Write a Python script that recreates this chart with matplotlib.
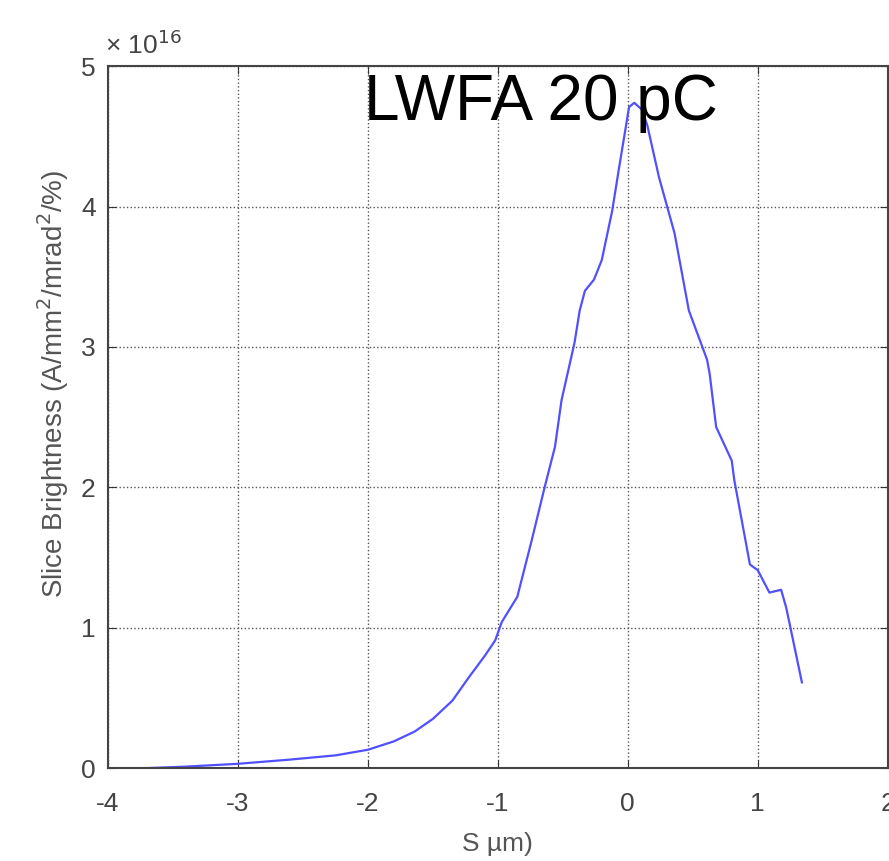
import numpy as np
import matplotlib.pyplot as plt

plt.rcParams['font.family'] = ['Liberation Sans', 'DejaVu Sans']
plt.rcParams['axes.unicode_minus'] = False

# slice position (um) and brightness (x 1e16 A/mm^2/mrad^2/%)
s_um = [-3.68, -3.4, -3.0, -2.6, -2.25, -2.0, -1.8, -1.64, -1.5, -1.35, -1.22, -1.1,
        -1.02, -0.97, -0.85, -0.82, -0.74, -0.64, -0.56, -0.51, -0.41, -0.37, -0.33,
        -0.26, -0.2, -0.12, -0.07, 0.01, 0.05, 0.11, 0.15, 0.24, 0.36, 0.47, 0.61,
        0.63, 0.68, 0.8, 0.82, 0.94, 1.0, 1.09, 1.18, 1.22, 1.34]
bright = [0.0, 0.01, 0.03, 0.06, 0.09, 0.13, 0.19, 0.26, 0.35, 0.48, 0.65, 0.8,
          0.91, 1.04, 1.22, 1.33, 1.62, 2.0, 2.29, 2.62, 3.03, 3.26, 3.4,
          3.48, 3.62, 3.97, 4.26, 4.71, 4.74, 4.69, 4.58, 4.21, 3.81, 3.26, 2.91,
          2.81, 2.43, 2.19, 2.05, 1.45, 1.41, 1.25, 1.27, 1.14, 0.61]
xticks = [-4, -3, -2, -1, 0, 1, 2]
yticks = [0, 1, 2, 3, 4, 5]

fig = plt.figure(figsize=(8.89, 8.61), dpi=100)
ax = fig.add_axes([0.1215, 0.108, 0.877, 0.815])
ax.plot(s_um, bright, color='#5050ff', lw=1.6)

ax.set_xlim(-4, 2)
ax.set_ylim(0, 5)
ax.set_xticks(xticks)
ax.set_yticks(yticks)
ax.tick_params(direction='in', top=True, right=True, length=6, labelsize=19,
               colors='#333333', labelcolor='#444444')
ax.tick_params(axis='x', pad=17)
ax.tick_params(axis='y', pad=9)
ax.grid(True, linestyle=':', color='#555555', lw=1.0)
for sp in ax.spines.values():
    sp.set_color('#444444')
    sp.set_linewidth(1.5)

ax.set_xlabel('S µm)', fontsize=19, color='#555555', labelpad=12)
ax.set_ylabel('Slice Brightness (A/mm$^2$/mrad$^2$/%)', fontsize=20,
              color='#555555')
ax.yaxis.set_label_coords(-0.047, 0.548)
ax.text(-0.004, 1.01, '× 10$^{16}$', transform=ax.transAxes, fontsize=19,
        color='#444444', ha='left', va='bottom')
ax.text(-2.03, 4.62, 'LWFA 20 pC', fontsize=46, color='black', ha='left',
        va='baseline')

fig.savefig('out.png', dpi=100)
